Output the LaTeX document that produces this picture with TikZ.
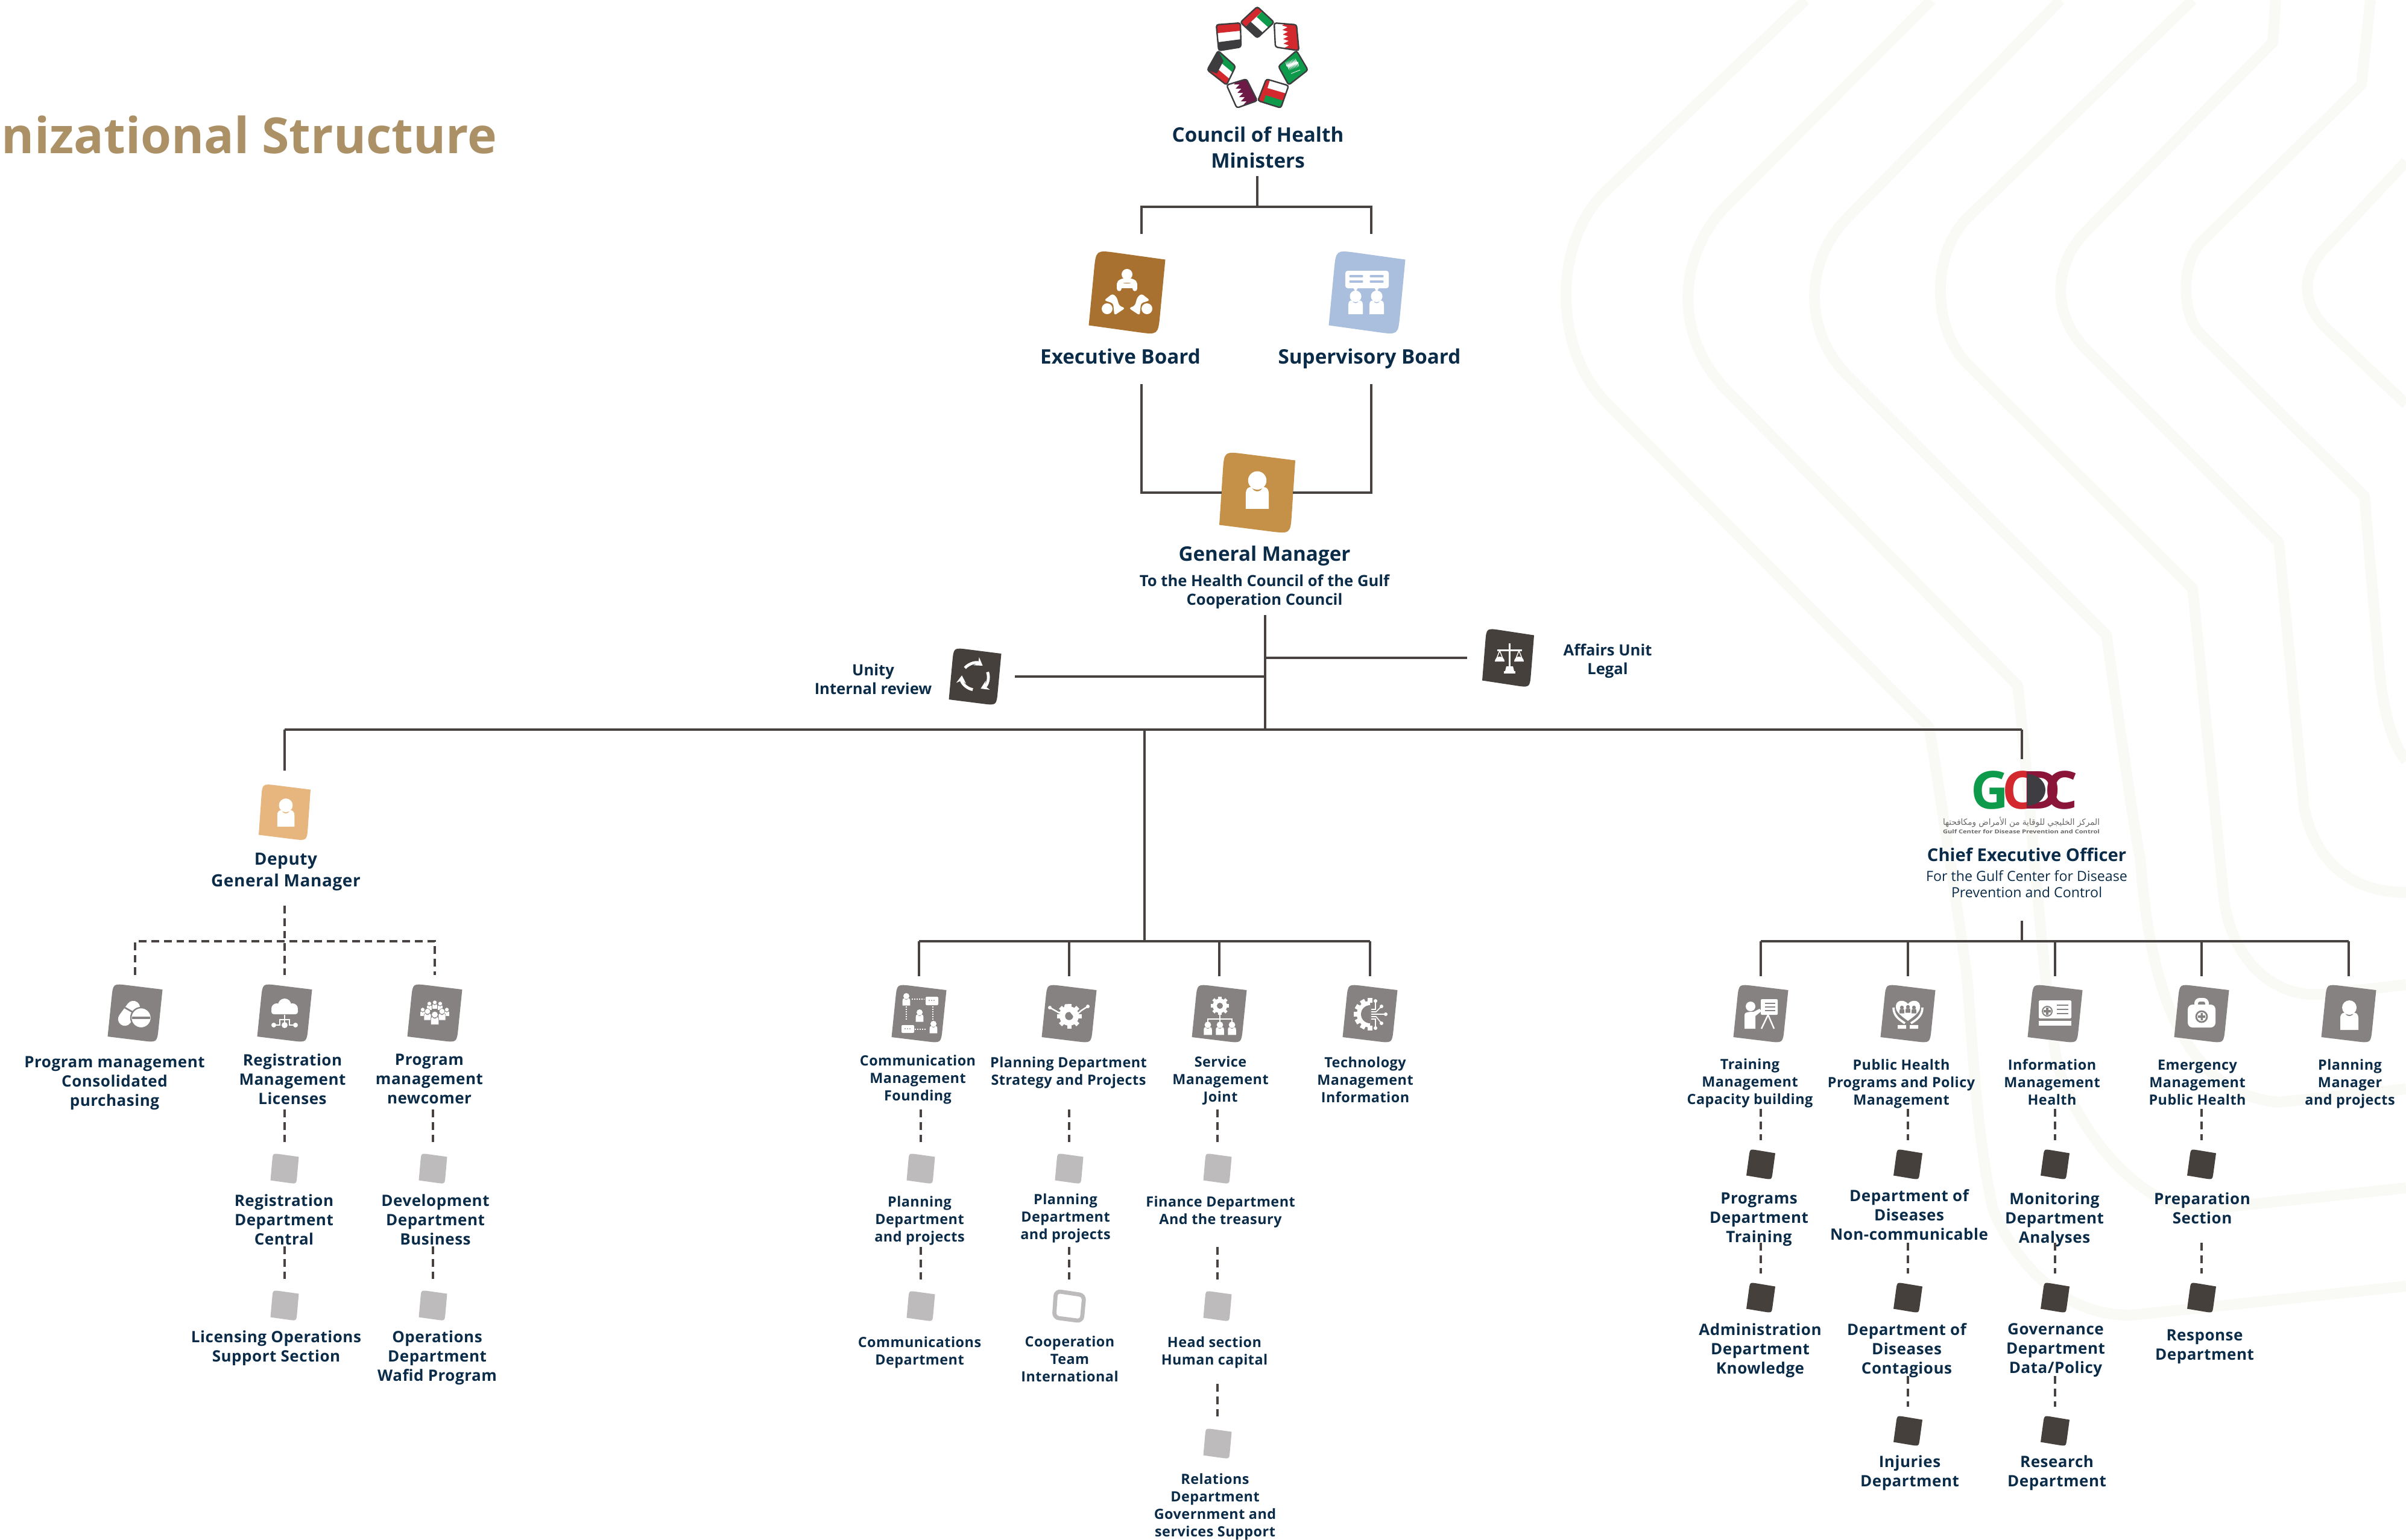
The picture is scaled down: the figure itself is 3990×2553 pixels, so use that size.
\documentclass[tikz,border=0pt]{standalone}
\usepackage{fontspec}
\usepackage{graphicx}
\usetikzlibrary{calc,arrows.meta,decorations.pathmorphing}
\setmainfont{Open Sans}
\newfontfamily\flbl[LetterSpace=2,UprightFont=*,BoldFont=* Bold]{Open Sans}
\newfontfamily\fhead{Open Sans}
\newfontfamily\freg{Open Sans}
\newfontfamily\farab[Script=Arabic]{DejaVu Sans}
\TeXXeTstate=1
\definecolor{ink}{HTML}{0B2C48}
\definecolor{linec}{HTML}{484341}
\definecolor{gry}{HTML}{868282}
\definecolor{lgt}{HTML}{BDBBBC}
\definecolor{drk}{HTML}{46403C}
\definecolor{bgl}{HTML}{F9F9F5}
\definecolor{fgreen}{HTML}{0E9A4B}
\definecolor{fred}{HTML}{D2282E}
\definecolor{fmar}{HTML}{6E1A47}
\definecolor{fblk}{HTML}{3D3D3F}
\definecolor{cexec}{RGB}{169,113,48}
\definecolor{csup}{RGB}{170,191,221}
\definecolor{cgm}{RGB}{197,145,72}
\definecolor{cdep}{RGB}{231,182,127}
\definecolor{ctitle}{RGB}{172,145,102}
\definecolor{cmar}{RGB}{138,21,56}
\definecolor{cdk}{RGB}{61,61,66}
\tikzset{
 ghost/.style={inner sep=0pt,outer sep=0pt,draw=none},
 bgline/.style={draw=bgl,line width=4.5pt,line join=round},
 link/.style={draw=linec,line width=1pt},
 dashlink/.style={draw=linec,line width=.8pt,dash pattern=on 3.2pt off 2pt},
 strutted/.style={align=center,inner sep=0pt,text=ink,yshift=-1pt,execute at begin node=\strut,execute at end node=\strut},
 lblL/.style={strutted,font=\flbl\bfseries\fontsize{6.5}{8}\selectfont},
 lblS/.style={strutted,font=\flbl\bfseries\fontsize{5.85}{7.25}\selectfont},
 headb/.style={strutted,font=\fhead\bfseries\fontsize{8.3}{10.75}\selectfont},
 subb/.style={strutted,font=\fhead\bfseries\fontsize{6.4}{7.9}\selectfont},
 depb/.style={strutted,font=\flbl\bfseries\fontsize{7}{9}\selectfont},
 regb/.style={strutted,font=\freg\fontsize{5.8}{6.75}\selectfont},
 flagline/.style={draw=fblk,line width=.6pt,rounded corners=.9pt}
}
\newcommand\iconbox[8]{%
 \coordinate (TL) at ({#2-#4/2+#6},{#3-#5/2-#7});
 \coordinate (TR) at ({#2+#4/2+#6},{#3-#5/2+#7});
 \coordinate (BR) at ({#2+#4/2-#6},{#3+#5/2+#7});
 \coordinate (BL) at ({#2-#4/2-#6},{#3+#5/2-#7});
 \fill[#8] (BL) -- ($(TL)!.27!(BL)$) .. controls (TL) and (TL) .. ($(TL)!.3!(TR)$) -- (TR) -- ($(BR)!.27!(TR)$) .. controls (BR) and (BR) .. ($(BR)!.3!(BL)$) -- cycle;
 \node[ghost,minimum width=#4*0.25pt,minimum height=#5*0.25pt] (#1) at (#2,#3) {};}
\newcommand\bigicon[3]{\iconbox{#1}{#2}{#3}{82}{88}{4.5}{5}{gry}}
\newcommand\lgticon[3]{\iconbox{#1}{#2}{#3}{43}{45}{2}{3}{lgt}}
\newcommand\drkicon[3]{\iconbox{#1}{#2}{#3}{42}{44}{3}{3.5}{drk}}
\newcommand\person[4][]{\begin{scope}[shift={(#2,#3)},scale=#4]
 \path[fill=white,#1] (0,-12) circle[radius=12];
 \path[fill=white,#1] (-15,25) -- (-15,6) .. controls (-15,-2) and (-11,-4) .. (-7,-3) .. controls (-5,4) and (5,4) .. (7,-3) .. controls (11,-4) and (15,-2) .. (15,6) -- (15,25) -- cycle;
 \end{scope}}
\newcommand\gearg[4]{%
 \foreach \a in {0,45,...,315}{\fill[white,rotate around={\a:(#1,#2)}] ({#1-#3*.22},{#2-#3*1.28}) rectangle ({#1+#3*.22},{#2});}
 \fill[white] (#1,#2) circle[radius=#3];
 \fill[#4] (#1,#2) circle[radius=#3*.42];}
\newcommand\flagtile[5]{%
 \begin{scope}\clip[rounded corners=.9pt] #1 -- #2 -- #3 -- #4 -- cycle;
 \fill[white] (1990,0) rectangle (2180,190);
 #5
 \end{scope}
 \draw[flagline] #1 -- #2 -- #3 -- #4 -- cycle;}
\begin{document}
\begin{tikzpicture}[x=0.25pt,y=-0.25pt]
\useasboundingbox (0,0) rectangle (3990,2553);
% background waves
\draw[bgline] (2994,0) -- (2660,320) .. controls (2575,405) and (2575,580) .. (2666,670) -- (3199,1206) .. controls (3215,1300) and (3245,1500) .. (3262,1620) .. controls (3275,1790) and (3280,1890) .. (3305,2006) .. controls (3345,2100) and (3430,2190) .. (3546,2180) -- (3990,2133);
\draw[bgline] (3203,0) -- (2866,338) .. controls (2777,427) and (2777,561) .. (2866,650) -- (3346,1137) .. controls (3365,1300) and (3385,1600) .. (3408,1743) .. controls (3420,1830) and (3520,1990) .. (3641,2007) -- (3990,1970);
\draw[bgline] (3417,0) -- (3061,364) .. controls (2991,436) and (2991,553) .. (3066,625) -- (3493,1053) .. controls (3515,1200) and (3535,1350) .. (3549,1423) .. controls (3560,1560) and (3590,1810) .. (3778,1828) -- (3990,1806);
\draw[bgline] (3636,0) -- (3260,364) .. controls (3203,424) and (3203,546) .. (3265,606) -- (3636,976) -- (3688,1490) .. controls (3700,1590) and (3770,1660) .. (3860,1648) -- (3990,1633);
\draw[bgline] (3774,0) -- (3769,70) -- (3460,383) .. controls (3403,440) and (3403,523) .. (3460,580) -- (3779,900) -- (3821,1340) .. controls (3840,1430) and (3900,1480) .. (3990,1480);
\draw[bgline] (3931,0) -- (3916,140) -- (3650,402) .. controls (3617,435) and (3617,522) .. (3650,555) -- (3921,823) -- (3945,1100) .. controls (3950,1170) and (3965,1230) .. (3990,1262);
\draw[bgline] (3990,268) -- (3859,408) .. controls (3816,451) and (3816,499) .. (3855,542) -- (3990,670);
% title
\node[ghost,anchor=base west,font=\bfseries\fontsize{20.6}{24}\selectfont,text=ctitle] (title) at (3,254) {nizational Structure};
% flags
\flagtile{(2085,11)}{(2113,37)}{(2085,63)}{(2057,37)}{%
 \fill[fred] (2085,11) -- (2093,19) -- (2065,45) -- (2057,37) -- cycle;
 \fill[fgreen] (2093,19) -- (2113,37) -- (2104,46) -- (2084,28) -- cycle;
 \fill[fblk] (2074,36) -- (2094,54) -- (2085,63) -- (2065,45) -- cycle;}
\flagtile{(2113,38)}{(2150,41)}{(2154,84)}{(2115,78)}{%
 \fill[fred] decorate[decoration={zigzag,segment length=1.9pt,amplitude=1.1pt}] {(2130,36) -- (2134,84)} -- (2160,88) -- (2160,36) -- cycle;}
\flagtile{(2150,84)}{(2169,116)}{(2137,141)}{(2120,110)}{%
 \fill[fgreen] (2110,80) rectangle (2175,145);
 \draw[white,line width=.3pt,decorate,decoration={zigzag,segment length=.6pt,amplitude=1pt}] (2134,110) -- (2153,103);
 \draw[white,line width=.2pt] (2141,122) -- (2156,116);}
\flagtile{(2100,131)}{(2137,142)}{(2124,179)}{(2086,167)}{%
 \fill[fred] (2080,125) rectangle (2140,185);
 \fill[white] (2106,133) -- (2137,142) -- (2133,155) -- (2102,146) -- cycle;
 \fill[fgreen] (2099,158) -- (2128,167) -- (2124,179) -- (2095,170) -- cycle;}
\flagtile{(2067,131)}{(2085,167)}{(2051,179)}{(2034,141)}{%
 \fill[fmar] decorate[decoration={zigzag,segment length=1.9pt,amplitude=1.1pt}] {(2048,133) -- (2066,176)} -- (2090,170) -- (2070,125) -- cycle;}
\flagtile{(2020,84)}{(2049,110)}{(2034,141)}{(2002,116)}{%
 \fill[fgreen] (2020,84) -- (2049,110) -- (2044,120) -- (2014,95) -- cycle;
 \fill[fred] (2008,105) -- (2039,131) -- (2034,141) -- (2002,116) -- cycle;
 \fill[fblk] (2020,84) -- (2029,101) -- (2018,122) -- (2002,116) -- cycle;}
\flagtile{(2017,41)}{(2057,38)}{(2058,78)}{(2021,84)}{%
 \fill[fred] (2017,41) -- (2057,38) -- (2057,51) -- (2018,55) -- cycle;
 \fill[fblk] (2020,70) -- (2058,65) -- (2058,78) -- (2021,84) -- cycle;}
% top labels
\node[headb] (council) at (2086,247) {Council of Health\\Ministers};
\node[headb] (execl) at (1858,591) {Executive Board};
\node[headb] (supl) at (2271,591) {Supervisory Board};
\node[headb] (gml) at (2097,918) {General Manager};
\node[subb] (gmsub) at (2097,979) {To the Health Council of the Gulf\\Cooperation Council};
% board icons
\iconbox{exec}{1869}{485}{115}{125}{6}{8}{cexec}
\iconbox{sup}{2267}{485}{115}{125}{6}{8}{csup}
\iconbox{gm}{2085}{817}{118}{122}{4}{7.5}{cgm}
\iconbox{review}{1617}{1122}{79}{86}{4}{5}{drk}
\iconbox{legal}{2501}{1091}{79}{87}{3.5}{6}{drk}
\iconbox{deputy}{472}{1347}{80}{85}{3}{5}{cdep}
% glyph exec
\begin{scope}[shift={(1869,485)}]
 \fill[white] (0,-30) circle[radius=9];
 \draw[white,line width=1.9pt,line cap=round] (-13,-6) -- (-13,-14) .. controls (-13,-22) and (13,-22) .. (13,-14) -- (13,-6) (-12,-11) -- (12,-11);
 \fill[white] (-33,27) circle[radius=9]; \fill[white] (33,27) circle[radius=9];
 \fill[white,rounded corners=.9pt] (-24,2) -- (-38,13) -- (-23,18) -- (-21,38) -- (-3,26) -- (-13,22) -- (-17,8) -- cycle;
 \fill[white,rounded corners=.9pt] (24,2) -- (38,13) -- (23,18) -- (21,38) -- (3,26) -- (13,22) -- (17,8) -- cycle;
\end{scope}
% glyph supervisory
\begin{scope}[shift={(2267,485)}]
 \fill[white,rounded corners=1pt] (-36,-36) rectangle (36,-7);
 \fill[white] (-23,-8) -- (-15,-8) -- (-19,-1) -- cycle; \fill[white] (12,-8) -- (20,-8) -- (16,-1) -- cycle;
 \draw[csup,line width=.8pt,line cap=round] (-28,-27) -- (-8,-27) (-28,-18) -- (-8,-18) (6,-27) -- (26,-27) (6,-18) -- (26,-18);
 \person{-19}{16}{.8}\person{16}{16}{.8}
\end{scope}
\person{2085}{812}{1.27}
\person{474}{1347}{.95}
% review glyph
\begin{scope}[shift={(1617,1122)}]
 \foreach \a in {-20,100,220}{\draw[white,line width=1.2pt,-{Stealth[length=3.2pt,width=4pt]}] (\a:22) arc[start angle=\a,end angle=\a+85,radius=22];}
\end{scope}
% legal glyph
\begin{scope}[shift={(2501,1091)}]
 \fill[white] (1,-24) rectangle (4,14);
 \fill[white] (-18,-14) rectangle (23,-11);
 \fill[white] (-5,22) -- (-3,14) -- (8,14) -- (10,22) -- cycle; \fill[white] (-7,22) rectangle (12,26);
 \draw[white,line width=.35pt] (-14,-12) -- (-21,6) (-14,-12) -- (-7,6) (18,-12) -- (11,6) (18,-12) -- (25,6);
 \fill[white] (-22,6) arc[start angle=180,end angle=360,x radius=8,y radius=8] -- cycle;
 \fill[white] (10,6) arc[start angle=180,end angle=360,x radius=8,y radius=8] -- cycle;
\end{scope}
\node[subb] (reviewl) at (1448,1127) {Unity\\Internal review};
\node[subb] (legall) at (2666,1094) {Affairs Unit\\Legal};
% GCDC logo
\node[ghost,minimum width=190*0.25pt,minimum height=62*0.25pt] (gcdc) at (3353,1310) {};
\node[ghost,anchor=base,text=fgreen,font=\bfseries\fontsize{21.7}{24}\selectfont] (gG) at (3300,1341) {G};
\node[ghost,anchor=base,text=fred,font=\bfseries\fontsize{21.7}{24}\selectfont] (gC) at (3348,1341) {C};
\node[ghost,anchor=base,text=cmar,font=\bfseries\fontsize{21.7}{24}\selectfont] (gD) at (3386,1341) {D};
\fill[cdk] (3362,1284) arc[start angle=-90,end angle=90,x radius=30,y radius=26] -- cycle;
\node[ghost,anchor=base,text=cmar,font=\bfseries\fontsize{21.7}{24}\selectfont] (gC2) at (3418,1341) {C};
\node[ghost,text=gry!80!black] (garab) at (3352,1363) {\resizebox{65pt}{3.4pt}{\farab\beginR المركز الخليجي للوقاية من الأمراض ومكافحتها\endR}};
\node[ghost,text=gry!80!black] (gen) at (3352,1379) {\resizebox{65pt}{1.7pt}{\bfseries Gulf Center for Disease Prevention and Control}};
\node[strutted,font=\fhead\bfseries\fontsize{7.3}{10}\selectfont] (ceo) at (3361,1416) {Chief Executive Officer};
\node[regb] (ceosub) at (3361,1466) {For the Gulf Center for Disease\\Prevention and Control};
% left column
\node[depb] (depl) at (474,1444) {Deputy\\General Manager};
\bigicon{pills}{224}{1680}
\bigicon{cloud}{472}{1680}
\bigicon{crowd}{721}{1680}
\node[lblL] (a1) at (190,1794) {Program management\\Consolidated\\purchasing};
\node[lblL] (a2) at (485,1790) {Registration\\Management\\Licenses};
\node[lblL] (a3) at (712,1790) {Program\\management\\newcomer};
\lgticon{a2i}{472}{1938}
\lgticon{a3i}{718}{1938}
\node[lblL] (a4) at (471,2023) {Registration\\Department\\Central};
\node[lblL] (a5) at (722,2023) {Development\\Department\\Business};
\lgticon{a4i}{472}{2165}
\lgticon{a5i}{718}{2165}
\node[lblL] (a6) at (458,2233) {Licensing Operations\\Support Section};
\node[lblL] (a7) at (725,2249) {Operations\\Department\\Wafid Program};
% pills
\begin{scope}[shift={(224,1680)}]
 \draw[white,line width=5.6pt,line cap=round] (-17,10) -- (-3,-9);
 \draw[gry,line width=.7pt] (-17,-9) -- (4,3);
 \fill[white,draw=gry,line width=.6pt] (10,8) circle[radius=17];
 \fill[gry] (-5,6) rectangle (25,10);
\end{scope}
% cloud
\begin{scope}[shift={(472,1680)}]
 \fill[white] (-13,-7) circle[radius=9] (0,-13) circle[radius=11] (13,-7) circle[radius=9];
 \fill[white,rounded corners=1pt] (-22,-8) rectangle (22,2);
 \draw[white,line width=.5pt] (0,3) -- (0,19) (-18,20) -- (-8,20) -- (-8,11) -- (0,11) -- (8,11) -- (8,20) -- (18,20);
 \fill[white] (-18,20) circle[radius=4] (0,20) circle[radius=5] (18,20) circle[radius=4];
\end{scope}
% crowd
\foreach \xx/\yy/\ss in {-20/-2/.3,20/-2/.3,-9/-12/.3,9/-12/.3,0/-14/.3,-12/2/.4,12/2/.4,0/8/.45}{\pgfmathsetmacro\pxx{721+\xx}\pgfmathsetmacro\pyy{1680+\yy}\person[draw=gry,line width=.15pt]{\pxx}{\pyy}{\ss}}
% mid column
\coordinate (midBus) at (0,1561);
\bigicon{comm}{1524}{1681}
\bigicon{plan}{1773}{1681}
\bigicon{serv}{2022}{1681}
\bigicon{tech}{2272}{1681}
\node[lblS] (b1) at (1522,1788) {Communication\\Management\\Founding};
\node[lblS] (b2) at (1772,1776) {Planning Department\\Strategy and Projects};
\node[lblS] (b3) at (2024,1790) {Service\\Management\\Joint};
\node[lblS] (b4) at (2264,1791) {Technology\\Management\\Information};
\lgticon{b1i}{1527}{1938}
\lgticon{b2i}{1773}{1938}
\lgticon{b3i}{2019}{1938}
\node[lblS] (b5) at (1525,2022) {Planning\\Department\\and projects};
\node[lblS] (b6) at (1767,2018) {Planning\\Department\\and projects};
\node[lblS] (b7) at (2024,2007) {Finance Department\\And the treasury};
\lgticon{b5i}{1527}{2166}
\draw[lgt,line width=1.7pt,rounded corners=2pt] (1751,2141) -- (1798,2148) -- (1794,2191) -- (1748,2185) -- cycle;
\node[ghost,minimum width=50*0.25pt,minimum height=50*0.25pt] (b6i) at (1773,2166) {};
\lgticon{b7i}{2019}{2166}
\node[lblS] (b8) at (1525,2240) {Communications\\Department};
\node[lblS] (b9) at (1774,2254) {Cooperation\\Team\\International};
\node[lblS] (b10) at (2014,2240) {Head section\\Human capital};
\lgticon{b10i}{2019}{2394}
\node[lblS] (b11) at (2015,2496) {Relations\\Department\\Government and\\services Support};
% comm glyph
\begin{scope}[shift={(1524,1681)}]
 \person{-21}{-24}{.42}\person{1}{3}{.42}\person{24}{22}{.42}
 \fill[white,rounded corners=.5pt] (11,-28) rectangle (32,-14); \fill[white,rounded corners=.5pt] (-29,19) rectangle (-8,32);
 \draw[white,line width=.3pt,dash pattern=on .5pt off .5pt] (-12,-24) -- (9,-24) (-21,-12) -- (-21,12) (23,-12) -- (23,12) (-7,26) -- (12,26);
 \fill[gry] (17,-22) circle[radius=1] (21,-22) circle[radius=1] (25,-22) circle[radius=1] (-23,25) circle[radius=1] (-19,25) circle[radius=1] (-15,25) circle[radius=1];
\end{scope}
% plan glyph
\gearg{1773}{1685}{16}{gry}
\draw[white,line width=.6pt] (1741,1671) -- (1757,1680) -- (1768,1668) -- (1782,1686) -- (1793,1676) -- (1804,1669);
\fill[white] (1741,1671) circle[radius=3] (1804,1669) circle[radius=3] (1768,1668) circle[radius=3];
% service glyph
\gearg{2023}{1668}{12}{gry}
\draw[white,line width=.6pt] (2023,1680) -- (2023,1690) (2003,1698) -- (2003,1690) -- (2043,1690) -- (2043,1698) (2023,1690) -- (2023,1698);
\person{2003}{1705}{.45}\person{2023}{1705}{.45}\person{2043}{1705}{.45}
% tech glyph
\begin{scope}[shift={(2272,1682)}]
 \foreach \a in {90,120,150,180,210,240,270}{\fill[white,rotate=\a] (19,-4) rectangle (27,4);}
 \fill[white] (0,-22) arc[start angle=-90,end angle=-270,radius=22] -- cycle;
 \fill[gry] (0,-15) arc[start angle=-90,end angle=-270,radius=15] -- cycle;
 \draw[white,line width=.4pt] (2,0) -- (26,0) (2,-4) -- (10,-4) -- (19,-13) (2,-8) -- (9,-8) -- (9,-22) (2,4) -- (10,4) -- (19,15) (2,8) -- (9,8) -- (9,23);
 \fill[white] (26,0) circle[radius=3] (19,-13) circle[radius=3] (9,-22) circle[radius=3] (19,15) circle[radius=3] (9,23) circle[radius=3];
\end{scope}
% right column
\bigicon{tr}{2920}{1681}
\bigicon{ph}{3164}{1681}
\bigicon{info}{3408}{1681}
\bigicon{emg}{3651}{1681}
\bigicon{pm}{3895}{1681}
\node[lblS] (c1) at (2902,1794) {Training\\Management\\Capacity building};
\node[lblS] (c2) at (3153,1795) {Public Health\\Programs and Policy\\Management};
\node[lblS] (c3) at (3403,1795) {Information\\Management\\Health};
\node[lblS] (c4) at (3644,1795) {Emergency\\Management\\Public Health};
\node[lblS] (c5) at (3897,1795) {Planning\\Manager\\and projects};
\drkicon{c1i}{2920}{1931}
\drkicon{c2i}{3164}{1931}
\drkicon{c3i}{3408}{1931}
\drkicon{c4i}{3651}{1931}
\node[lblL] (d1) at (2917,2020) {Programs\\Department\\Training};
\node[lblL] (d2) at (3166,2015) {Department of\\Diseases\\Non-communicable};
\node[lblL] (d3) at (3407,2020) {Monitoring\\Department\\Analyses};
\node[lblL] (d4) at (3652,2004) {Preparation\\Section};
\drkicon{d1i}{2920}{2152}
\drkicon{d2i}{3164}{2152}
\drkicon{d3i}{3408}{2152}
\drkicon{d4i}{3651}{2152}
\node[lblL] (e1) at (2919,2237) {Administration\\Department\\Knowledge};
\node[lblL] (e2) at (3162,2237) {Department of\\Diseases\\Contagious};
\node[lblL] (e3) at (3409,2237) {Governance\\Department\\Data/Policy};
\node[lblL] (e4) at (3656,2231) {Response\\Department};
\drkicon{e2i}{3164}{2373}
\drkicon{e3i}{3408}{2373}
\node[lblL] (f2) at (3167,2440) {Injuries\\Department};
\node[lblL] (f3) at (3411,2440) {Research\\Department};
% trainer glyph
\begin{scope}[shift={(2920,1681)}]
 \fill[white] (-17,-12) circle[radius=8];
 \fill[white] (-27,25) -- (-27,2) .. controls (-27,-2) and (-22,-3) .. (-12,-3) -- (-2,-8) -- (1,-4) -- (-9,4) -- (-9,25) -- cycle;
 \fill[white,rounded corners=.5pt] (0,-24) rectangle (28,2);
 \draw[gry,line width=.6pt] (7,-17) -- (24,-17) (7,-11) -- (24,-11) (7,-5) -- (24,-5);
 \draw[white,line width=.6pt] (12,2) -- (1,25) (12,2) -- (22,25);
\end{scope}
% heart glyph
\begin{scope}[shift={(3164,1681)}]
 \fill[white] (0,12) .. controls (-14,2) and (-21,-4) .. (-20,-13) .. controls (-19,-23) and (-6,-24) .. (0,-16) .. controls (6,-24) and (19,-23) .. (20,-13) .. controls (21,-4) and (14,2) .. (0,12) -- cycle;
 \person[fill=gry]{-10}{-7}{.26}\person[fill=gry]{0}{-8}{.26}\person[fill=gry]{10}{-7}{.26}
 \draw[white,line width=.9pt] (-24,-10) .. controls (-24,4) and (-14,10) .. (-5,16) (24,-10) .. controls (24,4) and (14,10) .. (5,16);
 \fill[white] (-17,19) rectangle (-3,25) (3,19) rectangle (17,25);
\end{scope}
% id glyph
\begin{scope}[shift={(3408,1681)}]
 \fill[white,rounded corners=.4pt] (-27,-22) rectangle (27,8);
 \fill[white] (-27,12) rectangle (27,20);
 \draw[gry,line width=.5pt] (-13,-4) circle[radius=8];
 \fill[gry] (-15,-10) rectangle (-11,2) (-19,-6) rectangle (-7,-2);
 \draw[gry,line width=.7pt] (3,-14) -- (22,-14) (3,-7) -- (22,-7) (3,0) -- (22,0);
\end{scope}
% medkit glyph
\begin{scope}[shift={(3651,1681)}]
 \draw[white,line width=1.5pt,rounded corners=1.5pt] (-9,-14) -- (-9,-23) -- (9,-23) -- (9,-14);
 \fill[white,rounded corners=2pt] (-23,-15) rectangle (23,23);
 \draw[gry,line width=.7pt] (0,5) circle[radius=9];
 \fill[gry] (-1.5,-1) rectangle (2,11) (-6,3) rectangle (6,7);
\end{scope}
\person{3896}{1683}{1}
% connectors
\coordinate (cBus) at (2085,343);
\coordinate (eIn) at (1893,388);
\coordinate (sIn) at (2274,388);
\coordinate (eOut) at (1893,637);
\coordinate (sOut) at (2274,637);
\coordinate (gmOut) at (2098,1020);
\coordinate (bus) at (0,1210);
\coordinate (midJ) at (1898,1210);
\coordinate (ceoOut) at (3353,1527);
\draw[link] (council.south -| cBus) -- (cBus);
\draw[link] (eIn) |- (cBus) -| (sIn);
\draw[link] (eOut) |- (gm.west);
\draw[link] (sOut) |- (gm.east);
\draw[link] (gmOut) -- (gmOut |- bus);
\draw[link,shorten >=7.2pt] (gmOut |- legal.west) -- (legal.west);
\draw[link,shorten >=6.5pt] (gmOut |- review.east) -- (review.east);
\draw[link,shorten >=6.7pt] (deputy.north |- bus) -- (deputy.north);
\draw[link,shorten >=5pt] (gcdc.north |- bus) -- (gcdc.north);
\draw[link] (deputy.north |- bus) -- (gcdc.north |- bus);
\draw[link] (midJ) -- (midJ |- midBus);
\draw[link] (comm.north |- midBus) -- (tech.north |- midBus);
\foreach \n in {comm,plan,serv,tech,tr,ph,info,emg,pm}{\draw[link,shorten >=4.5pt] (\n.north |- midBus) -- (\n.north);}
\draw[link] (ceoOut) -- (ceoOut |- midBus);
\draw[link] (tr.north |- midBus) -- (pm.north |- midBus);
% dashed
\coordinate (dBus) at (0,1561);
\coordinate (depOut) at (472,1502);
\draw[dashlink,shorten <=4.7pt,shorten >=4.7pt] (pills.north) -- (pills.north |- dBus) -- (crowd.north |- dBus) -- (crowd.north);
\draw[dashlink,shorten >=4.7pt] (depOut) -- (cloud.north);
\newcommand\dlink[2]{\coordinate (#1-in) at (#1.north |- 0,#2);\draw[dashlink,shorten >=4.4pt] (#1-in) -- (#1.north);}
\dlink{a2i}{1840}\dlink{a3i}{1840}\dlink{a4i}{2067}\dlink{a5i}{2067}
\dlink{b1i}{1840}\dlink{b2i}{1840}\dlink{b3i}{1840}
\dlink{b5i}{2068}\dlink{b6i}{2068}\dlink{b7i}{2068}\dlink{b10i}{2295}
\dlink{c1i}{1839}\dlink{c2i}{1839}\dlink{c3i}{1839}\dlink{c4i}{1839}
\dlink{d1i}{2061}\dlink{d2i}{2061}\dlink{d3i}{2061}\dlink{d4i}{2061}
\dlink{e2i}{2282}\dlink{e3i}{2282}
\end{tikzpicture}
\end{document}
